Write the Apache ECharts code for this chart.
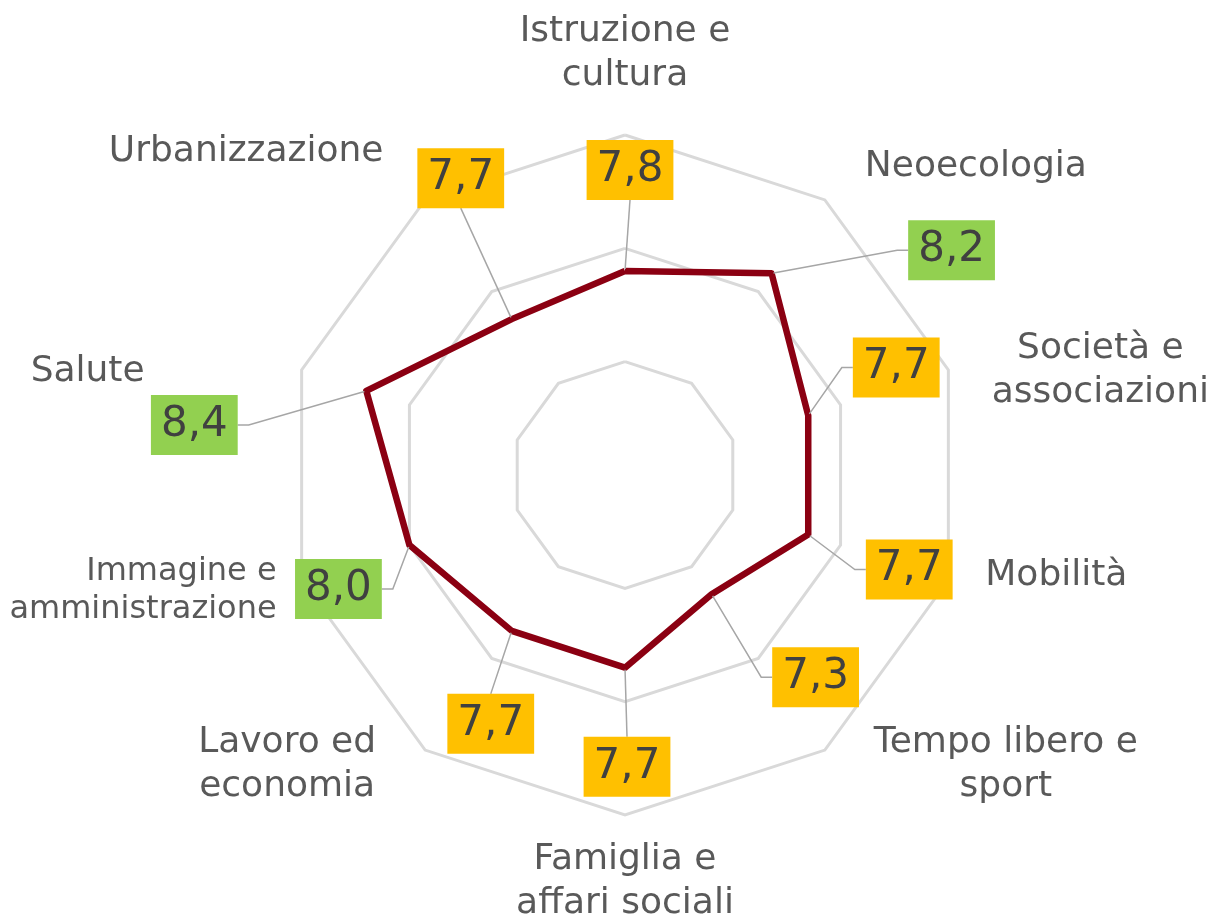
<!DOCTYPE html>
<html>
<head>
<meta charset="utf-8">
<title>Radar</title>
<script src="https://cdn.jsdelivr.net/npm/echarts@6/dist/echarts.min.js"></script>
<style>
  html, body { margin: 0; padding: 0; background: #fff; }
  #main { width: 1217px; height: 917px; }
</style>
</head>
<body>
<div id="main"></div>
<script>
// categories, clockwise from the top
const categories = [
  "Istruzione e\ncultura",
  "Neoecologia",
  "Società e\nassociazioni",
  "Mobilità",
  "Tempo libero e\nsport",
  "Famiglia e\naffari sociali",
  "Lavoro ed\neconomia",
  "Immagine e\namministrazione",
  "Salute",
  "Urbanizzazione",
];
const scores = [7.8, 8.2, 7.7, 7.7, 7.3, 7.7, 7.7, 8.0, 8.4, 7.7];
const axisMin = 6;
const axisMax = 9;

// label placement (pixels, relative to the point / outer vertex)
const valueOffsets = [
  [5, -101], [180, -23], [88, -48], [101, 35], [104, 83],
  [2, 99], [-21, 93], [-71, 44], [-172, 34], [-51, -141],
];
const leaderStubs = [0, 11, 11, 11, 11, 0, 0, 11, 11, 0];
const nameOffsets = [
  [0, -81], [151, -33], [152, 1], [108, -4], [181, 15],
  [0, 67], [-138, 15], [-25, 11], [-214, 2], [-179, -48],
];

const chart = echarts.init(document.getElementById("main"));
const center = [625, 475];
const radius = 340;

// radar goes counterclockwise, so feed it the categories in reverse (top stays first)
const ccw = categories.map((c, i) => (categories.length - i) % categories.length);

let option = {
  animation: false,
  textStyle: { fontFamily: "DejaVu Sans" },
  radar: {
    center: center,
    radius: radius,
    startAngle: 90,
    splitNumber: 3,
    shape: "polygon",
    indicator: ccw.map((i) => ({ name: categories[i], min: axisMin, max: axisMax })),
    axisName: { show: false },
    axisLine: { show: false },
    axisTick: { show: false },
    axisLabel: { show: false },
    splitArea: { show: false },
    splitLine: { lineStyle: { color: "#D9D9D9", width: 3 } },
  },
  polar: { center: center, radius: radius },
  angleAxis: {
    type: "category",
    data: categories,
    startAngle: 90,
    clockwise: true,
    boundaryGap: false,
    show: false,
  },
  radiusAxis: { type: "value", min: axisMin, max: axisMax, show: false },
  series: [
    {
      type: "radar",
      symbol: "none",
      lineStyle: { color: "#8B0012", width: 6.5, join: "round" },
      data: [{ value: ccw.map((i) => scores[i]) }],
    },
    {
      // value boxes with leader lines
      type: "scatter",
      coordinateSystem: "polar",
      symbolSize: 4,
      itemStyle: { color: "transparent", opacity: 1 },
      data: categories.map((c, i) => ({
        value: [scores[i], c],
        label: { backgroundColor: scores[i] >= 8 ? "#92D050" : "#FFC000" },
        labelLine: { length2: leaderStubs[i] },
      })),
      label: {
        show: true,
        position: "inside",
        formatter: (p) => p.value[0].toFixed(1).replace(".", ","),
        fontFamily: "DejaVu Sans",
        fontSize: 42,
        lineHeight: 50,
        color: "#404040",
        padding: [5, 10, 5, 10],
      },
      labelLine: { show: true, lineStyle: { color: "#A6A6A6", width: 1.5 } },
      labelLayout: (p) => ({
        dx: valueOffsets[p.dataIndex][0],
        dy: valueOffsets[p.dataIndex][1],
      }),
      z: 5,
    },
    {
      // axis names
      type: "scatter",
      coordinateSystem: "polar",
      symbolSize: 0,
      silent: true,
      itemStyle: { opacity: 1 },
      data: categories.map((c, i) => ({
        value: [axisMax, c],
        label:
          i === 7
            ? { offset: nameOffsets[i], align: "right", fontSize: 32, lineHeight: 38 }
            : { offset: nameOffsets[i] },
      })),
      label: {
        show: true,
        position: "inside",
        formatter: (p) => categories[p.dataIndex],
        fontFamily: "DejaVu Sans",
        fontSize: 36,
        lineHeight: 44,
        color: "#595959",
        align: "center",
      },
      z: 4,
    },
  ],
};

chart.setOption(option);
</script>
</body>
</html>
